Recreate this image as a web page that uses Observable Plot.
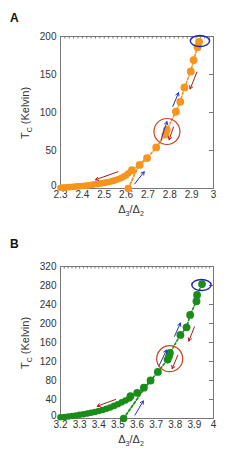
<!DOCTYPE html>
<html><head><meta charset="utf-8">
<script src="https://cdn.jsdelivr.net/npm/d3@7"></script>
<script src="https://cdn.jsdelivr.net/npm/@observablehq/plot@0.6"></script>
<style>
body{margin:0;background:#fff;font-family:"Liberation Sans",Arial,sans-serif;}
#wrap{position:relative;width:247px;height:461px;overflow:hidden;}
.pl{position:absolute;left:0;}
.lbl{position:absolute;color:#333;font-size:11px;white-space:nowrap;}
.ylab{transform:translate(-50%,-50%) rotate(-90deg);}
.xlab{transform:translate(-50%,-50%);}
.let{position:absolute;font-weight:bold;font-size:12px;color:#111;}
sub{font-size:7px;}
</style></head><body><div id="wrap"></div>
<script>
// ---------- Panel A data ----------
const aLowX = [2.30,2.31,2.32,2.33,2.34,2.35,2.36,2.37,2.38,2.39,2.40,2.41,2.42,2.43,2.44,2.45,2.46,2.47,2.48,2.49,2.50,2.51,2.52,2.53,2.54,2.55,2.56,2.57,2.58,2.59,2.60,2.61];
const aLowT = [1.0,1.2,1.4,1.6,1.8,2.0,2.2,2.5,2.8,3.0,3.3,3.6,3.9,4.3,4.7,5.1,5.5,6.0,6.4,6.9,7.4,8.0,8.6,9.3,10.0,10.8,11.8,12.9,14.2,15.8,17.5,20.0];
const aUpX = [2.627,2.662,2.696,2.738,2.780,2.786,2.828,2.848,2.867,2.896,2.909,2.927,2.934];
const aUpT = [24,31,40,54,71,77,101,114,133,154,169,186,193];
const aBrX = [2.61,2.66,2.696];
const aBrT = [0,32,40];
const aArrRed = [[2.562,22,2.46,11.5],[2.817,81,2.797,64],[2.924,153,2.893,131]];
const aArrBlue = [[2.639,6,2.683,22],[2.760,64,2.787,88],[2.814,108,2.840,126]];
const aRedCircle = [2.787,75];
const aBlueEllipse = [2.938,194];
const aXTicks = [2.3,2.4,2.5,2.6,2.7,2.8,2.9,3];
const aYTicks = [0,50,100,150,200];

// ---------- Panel B data ----------
const bLowX = [3.20,3.22,3.24,3.26,3.28,3.30,3.32,3.34,3.36,3.38,3.40,3.42,3.44,3.46,3.48,3.50,3.52,3.54,3.56];
const bLowT = [2.5,3.3,4.2,5.2,6.3,7.8,9.0,10.5,12.0,13.8,15.8,18.0,20.5,23.3,26.5,30.0,34.0,38.0,42.0];
const bUpX = [3.566,3.601,3.636,3.671,3.709,3.760,3.767,3.772,3.827,3.859,3.878,3.911,3.914,3.940];
const bUpT = [47,54,65,80,98,124,131,138,176,192,218,247,260,283];
const bBrX = [3.53,3.64,3.671];
const bBrT = [0,64,80];
const bArrRed = [[3.488,40,3.392,26],[3.813,133,3.784,105],[3.900,193,3.871,163]];
const bArrBlue = [[3.589,7,3.633,37],[3.714,110,3.754,144],[3.796,173,3.827,201]];
const bRedCircle = [3.771,126];
const bBlueEllipse = [3.937,281];
const bXTicks = [3.2,3.3,3.4,3.5,3.6,3.7,3.8,3.9,4];
const bYTicks = [0,40,80,120,160,200,240,280,320];

const ellipse = (k) => ({draw(ctx, size){
  const r = Math.sqrt(size/Math.PI), rx = r*k, ry = r, c = 0.5523;
  ctx.moveTo(rx,0);
  ctx.bezierCurveTo(rx, ry*c, rx*c, ry, 0, ry);
  ctx.bezierCurveTo(-rx*c, ry, -rx, ry*c, -rx, 0);
  ctx.bezierCurveTo(-rx, -ry*c, -rx*c, -ry, 0, -ry);
  ctx.bezierCurveTo(rx*c, -ry, rx, -ry*c, rx, 0);
  ctx.closePath();
}});

function panel(o){
  const [x0,x1] = o.xd, [y0,y1] = o.yd;
  const pxX = (x1-x0)/153, pxY = (y1-y0)/152;
  const minor = d3.range(Math.round((x1-x0)/0.02)+1).map(i => x0 + i*0.02);
  const low = o.lowX.map((x,i)=>({x, t:o.lowT[i]}));
  const up = o.upX.map((x,i)=>({x, t:o.upT[i]}));
  const br = o.brX.map((x,i)=>({x, t:o.brT[i]}));
  const all = low.concat(up);
  const arr = (a,c) => Plot.arrow(a, {x1:d=>d[0], y1:d=>d[1], x2:d=>d[2], y2:d=>d[3], stroke:c, strokeWidth:1, headLength:5, insetEnd:0});
  return Plot.plot({
    width:247, height:o.h, marginLeft:60, marginRight:34, marginTop:36, marginBottom:o.h-188,
    style:{fontFamily:"'Liberation Sans',Arial,sans-serif", fontSize:"10px", color:"#333", background:"transparent", overflow:"visible"},
    x:{domain:o.xd}, y:{domain:o.yd},
    marks:[
      Plot.frame({stroke:"#777"}),
      Plot.ruleX(minor, {x:d=>d, y1:y1, y2:y1 - 2.5*pxY, stroke:"#777"}),
      Plot.ruleY(o.yt, {y:d=>d, x1:x1, x2:x1 - 4*pxX, stroke:"#777"}),
      Plot.axisX(o.xt, {tickSize:0, tickPadding:2, label:null, tickFormat:d=>String(d)}),
      Plot.axisY(o.yt.filter(d=>d!==0), {tickSize:0, tickPadding:4, label:null}),
      Plot.text([0], {x:x0, y:d=>d, text:d=>String(d), textAnchor:"end", dx:-4, dy:-3, fill:"#333"}),
      Plot.line(all, {x:"x", y:"t", stroke:o.col, strokeWidth:1.6, strokeDasharray:"2,2"}),
      Plot.line(br, {x:"x", y:"t", stroke:o.col, strokeWidth:1.8, strokeDasharray:"2.5,2"}),
      Plot.dot(low, {x:"x", y:"t", r:3.3, fill:o.col}),
      Plot.dot(up, {x:"x", y:"t", r:3.9, fill:o.col}),
      Plot.dot([br[0]], {x:"x", y:"t", r:3.8, fill:o.col}),
      arr(o.red, "#b01818"),
      arr(o.blue, "#2a2fc0"),
      Plot.dot([o.rc], {x:d=>d[0], y:d=>d[1], r:13, stroke:"#c8401e", strokeWidth:1.2, fill:"none"}),
      Plot.dot([o.be], {x:d=>d[0], y:d=>d[1], r:5.5, symbol:ellipse(1.75), stroke:"#2426a8", strokeWidth:1.4, fill:"none"})
    ]
  });
}

const wrap = document.getElementById("wrap");
const pa = panel({h:230, xd:[2.3,3], yd:[0,200], xt:aXTicks, yt:aYTicks, lowX:aLowX, lowT:aLowT, upX:aUpX, upT:aUpT, brX:aBrX, brT:aBrT, red:aArrRed, blue:aArrBlue, rc:aRedCircle, be:aBlueEllipse, col:"#f7941d"});
pa.classList.add("pl"); pa.style.top="0px"; wrap.appendChild(pa);
const pb = panel({h:231, xd:[3.2,4], yd:[0,320], xt:bXTicks, yt:bYTicks, lowX:bLowX, lowT:bLowT, upX:bUpX, upT:bUpT, brX:bBrX, brT:bBrT, red:bArrRed, blue:bArrBlue, rc:bRedCircle, be:bBlueEllipse, col:"#1a8c1a"});
pb.classList.add("pl"); pb.style.top="230px"; wrap.appendChild(pb);

function addHtml(cls, left, top, html){
  const d = document.createElement("div"); d.className = cls; d.style.left = left+"px"; d.style.top = top+"px"; d.innerHTML = html; wrap.appendChild(d);
}
addHtml("let", 10, 11, "A");
addHtml("let", 10, 237, "B");
addHtml("lbl ylab", 26, 113, "T<sub>C</sub> (Kelvin)");
addHtml("lbl ylab", 26, 343, "T<sub>C</sub> (Kelvin)");
addHtml("lbl xlab", 131, 210, "&Delta;<sub>3</sub>/&Delta;<sub>2</sub>");
addHtml("lbl xlab", 131, 440, "&Delta;<sub>3</sub>/&Delta;<sub>2</sub>");
</script></body></html>
